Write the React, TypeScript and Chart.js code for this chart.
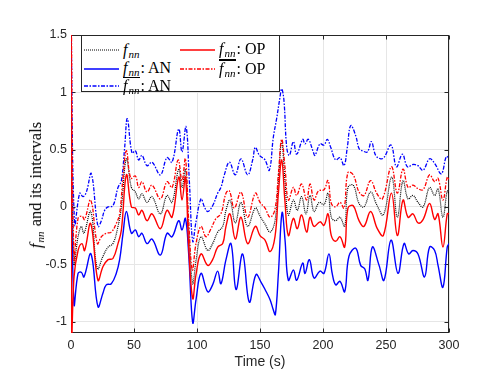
import React, { useEffect, useRef } from 'react';
import { Chart, registerables } from 'chart.js';

Chart.register(...registerables);

// ---- data (time in s, value) ----
const xTicks = [0, 50, 100, 150, 200, 250, 300];
const yTicks = [-1, -0.5, 0, 0.5, 1, 1.5];

const fnn: [number, number][] = [
  [0, 1.0], [2.4, -0.49], [5.6, -0.26], [8.2, -0.17], [10.3, -0.23], [15.6, -0.04], [20.9, -0.54], [25.4, -0.43],
  [29.4, -0.35], [33.3, -0.32], [37.3, -0.17], [40, 0.0], [44, 0.42], [47.9, 0.17], [51.1, 0.13], [53.7, 0.07],
  [56.3, 0.115], [60.3, 0.04], [64.3, 0.09], [70.9, -0.06], [76.2, 0.1], [80.2, 0.04], [85.5, 0.33], [88.1, 0.17],
  [90.8, 0.33], [93.4, -0.2], [96.6, -0.67], [99.2, -0.47], [103.2, -0.26], [108.5, -0.38], [112.4, -0.32],
  [116.4, -0.22], [120.4, -0.17], [123, -0.03], [126.2, 0.06], [130.4, -0.14], [134.9, 0.04], [140.2, -0.17],
  [146.3, -0.01], [150, -0.08], [154, -0.15], [158, -0.22], [161.9, -0.12], [164.6, 0.23], [167.2, 0.57],
  [169.8, 0.23], [172.5, -0.07], [176.5, 0.06], [179.6, -0.03], [183, 0.09], [186.5, -0.06], [189.7, 0.1],
  [192.9, -0.04], [197, 0.04], [200.8, 0.02], [204, 0.12], [206.6, -0.09], [210, -0.12], [213.5, -0.09],
  [217.2, -0.17], [219.8, 0.17], [224, 0.19], [228.6, 0.03], [232.5, 0.0], [237.8, 0.13], [242.6, 0.02],
  [247.9, -0.07], [254.5, 0.26], [259, -0.09], [263.5, 0.23], [267.5, 0.07], [271.4, 0.1], [275.4, 0.04],
  [279.4, 0.0], [284.6, 0.17], [288.6, 0.1], [291.3, 0.16], [295.2, -0.09], [298.6, 0.14], [300, 0.12],
];

const opUpper: [number, number][] = [
  [0, 2.0], [2.4, -0.45], [5.6, -0.1], [8.7, -0.08], [10.8, -0.11], [15.6, 0.06], [20.9, -0.32], [24.1, -0.26],
  [28, -0.23], [32, -0.22], [35.9, -0.145], [38.6, -0.06], [41.3, 0.26], [44, 0.49], [47.4, 0.25], [51.1, 0.27],
  [53.7, 0.17], [56.3, 0.22], [60.3, 0.13], [64.3, 0.19], [70.9, 0.07], [76.2, 0.22], [80.2, 0.17], [85, 0.41],
  [88.1, 0.23], [90.8, 0.42], [93.4, -0.12], [96.3, -0.55], [99.2, -0.32], [103.2, -0.17], [107.1, -0.26],
  [111.1, -0.19], [115.1, -0.1], [119, -0.06], [123, 0.12], [125.7, 0.14], [129.6, -0.01], [134.9, 0.13],
  [140.2, -0.09], [146.3, 0.12], [150, 0.04], [154, -0.01], [158, -0.09], [161.9, -0.02], [164.6, 0.29],
  [167.2, 0.59], [169.8, 0.35], [172.5, 0.06], [176.5, 0.17], [179.1, 0.1], [183, 0.2], [187, 0.06], [189.7, 0.2],
  [192.9, 0.06], [196.4, 0.14], [200.8, 0.15], [204, 0.23], [206.6, 0.03], [210, 0.0], [213.5, 0.04],
  [216.7, -0.01], [219.8, 0.3], [224, 0.28], [228.6, 0.13], [232.5, 0.1], [237.8, 0.23], [242.6, 0.12],
  [247.1, 0.07], [254.3, 0.35], [259, 0.12], [263.5, 0.33], [267.5, 0.17], [271.4, 0.19], [275.4, 0.16],
  [279.4, 0.15], [284.6, 0.28], [288.6, 0.22], [291.3, 0.25], [295.2, 0.06], [298.6, 0.26], [300, 0.24],
];

const opLower: [number, number][] = [
  [0, 1.6], [0.4, -1.2], [2.4, -0.61], [5.6, -0.38], [8.7, -0.32], [10.8, -0.38], [15.6, -0.145], [21.4, -0.64],
  [25.4, -0.52], [29.4, -0.46], [33.3, -0.45], [37.3, -0.32], [40, -0.2], [44, 0.28], [47.9, 0.0], [51.1, -0.01],
  [53.7, -0.07], [56.3, -0.03], [60.3, -0.12], [64.3, -0.06], [70.9, -0.19], [76.2, -0.03], [80.2, -0.09],
  [85.5, 0.26], [88.1, 0.06], [90.8, 0.26], [93.4, -0.35], [96.6, -0.8], [99.2, -0.59], [103.2, -0.41],
  [108.5, -0.51], [112.4, -0.46], [116.4, -0.35], [120.4, -0.32], [123, -0.17], [126.2, -0.06], [130.4, -0.28],
  [134.9, -0.09], [140.2, -0.32], [146.3, -0.17], [150, -0.25], [154, -0.29], [158, -0.39], [161.9, -0.26],
  [164.6, 0.12], [167.2, 0.41], [169.8, 0.05], [172.5, -0.25], [176.5, -0.1], [179.6, -0.19], [183, -0.07],
  [187, -0.22], [189.7, -0.09], [192.9, -0.17], [197.6, -0.13], [200.8, -0.16], [204, -0.06], [206.6, -0.25],
  [210, -0.3], [213.5, -0.26], [217.2, -0.35], [219.8, -0.01], [224, 0.01], [228.6, -0.12], [232.5, -0.17],
  [237.8, -0.04], [243.1, -0.19], [247.9, -0.25], [254.3, 0.12], [259, -0.25], [263.5, 0.06], [267.5, -0.09],
  [271.4, -0.06], [275.4, -0.14], [279.4, -0.11], [284.6, 0.03], [288.6, -0.11], [291.3, -0.06], [295.2, -0.35],
  [298.6, -0.06], [300, -0.06],
];

const anUpper: [number, number][] = [
  [0, 1.6], [2.9, -0.15], [6.9, 0.12], [9.5, 0.09], [12.2, 0.13], [16.1, 0.29], [21.4, -0.17], [24.1, -0.12],
  [26.7, -0.03], [29.4, 0.0], [33.3, 0.01], [37.3, 0.17], [40, 0.23], [42.6, 0.52], [44.7, 0.77], [48.4, 0.47],
  [51.1, 0.49], [53.7, 0.41], [56.3, 0.45], [60.3, 0.36], [64.3, 0.39], [70.9, 0.28], [76.2, 0.43], [80.2, 0.39],
  [85.5, 0.68], [88.1, 0.48], [91.3, 0.7], [93.9, 0.23], [96.6, -0.3], [99.2, -0.13], [103.2, 0.07],
  [105.9, 0.0], [108.5, -0.04], [112.4, 0.01], [116.4, 0.12], [119, 0.17], [121.7, 0.28], [125.7, 0.39],
  [130.4, 0.28], [134.9, 0.42], [140.2, 0.28], [144.2, 0.41], [146.3, 0.52], [149.5, 0.45], [154, 0.41],
  [157.4, 0.32], [160.6, 0.61], [163.2, 0.77], [165.9, 0.96], [167.2, 1.03], [169, 0.93], [171.2, 0.52],
  [173.3, 0.45], [176.5, 0.57], [179.1, 0.46], [183.9, 0.59], [185.7, 0.55], [188.3, 0.59], [192.3, 0.48],
  [193.6, 0.45], [197.6, 0.55], [200.8, 0.54], [203.4, 0.59], [206.1, 0.52], [210, 0.41], [213.5, 0.43],
  [216.7, 0.36], [219.3, 0.52], [222, 0.71], [226, 0.62], [228.6, 0.51], [231.2, 0.49], [235.2, 0.48],
  [238.4, 0.57], [241.8, 0.45], [245.8, 0.42], [248.4, 0.43], [254, 0.54], [258.3, 0.35], [263, 0.46],
  [267, 0.35], [271.4, 0.37], [275.4, 0.36], [279.4, 0.32], [284.6, 0.42], [288.6, 0.38], [293.9, 0.29],
  [297.9, 0.44], [300, 0.42],
];

const anLower: [number, number][] = [
  [0, 0.5], [2.4, -0.85], [5.6, -0.58], [8.2, -0.57], [10.3, -0.61], [15.8, -0.41], [21.4, -0.87], [25.4, -0.75],
  [28, -0.68], [32, -0.67], [35.9, -0.58], [38.6, -0.46], [41.3, -0.23], [44, -0.04], [47.9, -0.23], [51.1, -0.2],
  [53.7, -0.26], [56.3, -0.23], [60.3, -0.32], [64.3, -0.28], [70.9, -0.42], [76.2, -0.23], [80.2, -0.26],
  [85.5, -0.12], [88.1, -0.2], [90.8, -0.1], [93.4, -0.41], [96.6, -1.01], [99.2, -0.81], [103.2, -0.58],
  [108.5, -0.74], [112.4, -0.68], [116.4, -0.56], [119, -0.67], [123, -0.46], [127, -0.32], [131, -0.72],
  [136.2, -0.41], [141.5, -0.83], [146.8, -0.59], [151, -0.66], [154, -0.72], [158, -0.81], [160.6, -0.9],
  [162.2, -0.94], [164.6, -0.58], [167.5, -0.05], [169.8, -0.28], [172.5, -0.64], [176.5, -0.55], [179.1, -0.64],
  [183.9, -0.49], [185.7, -0.58], [189.2, -0.46], [192.9, -0.62], [197.6, -0.56], [200.8, -0.58], [204.7, -0.41],
  [207.3, -0.58], [210, -0.68], [213.5, -0.65], [217.2, -0.74], [220.6, -0.43], [226, -0.36], [229.9, -0.51],
  [233.1, -0.54], [235.7, -0.64], [239.2, -0.35], [244.5, -0.51], [248.4, -0.64], [254, -0.29], [259.5, -0.58],
  [264.3, -0.32], [268, -0.41], [271.4, -0.38], [275.4, -0.41], [280.6, -0.61], [284.6, -0.35], [288.6, -0.38],
  [291.3, -0.51], [295.2, -0.7], [298.6, -0.35], [300, -0.32],
];

const BLUE = '#0000ff';
const RED = '#ff0000';
const AXIS = '#262626';
const DOT = [1, 1];
const DASHDOT = [4, 1.5, 1.5, 1.5];
const SANS = '"Liberation Sans", Arial, Helvetica, sans-serif';
const SERIF = '"Liberation Serif", "Times New Roman", serif';

const framePlugin = {
  id: 'frame',
  beforeDatasetsDraw(chart: any) {
    const { ctx, chartArea: a, scales } = chart;
    ctx.save();
    ctx.strokeStyle = AXIS;
    ctx.lineWidth = 1;
    const L = Math.round(a.left) + 0.5, R = Math.round(a.right) - 0.5;
    const T = Math.round(a.top) + 0.5, B = Math.round(a.bottom) - 0.5;
    ctx.strokeRect(L, T, R - L, B - T);
    ctx.beginPath();
    const tl = 4;
    for (const v of xTicks) {
      const x = Math.round(scales.x.getPixelForValue(v)) + 0.5;
      ctx.moveTo(x, B); ctx.lineTo(x, B - tl);
      ctx.moveTo(x, T); ctx.lineTo(x, T + tl);
    }
    for (const v of yTicks) {
      const y = Math.round(scales.y.getPixelForValue(v)) + 0.5;
      ctx.moveTo(L, y); ctx.lineTo(L + tl, y);
      ctx.moveTo(R, y); ctx.lineTo(R - tl, y);
    }
    ctx.stroke();
    ctx.restore();
  },
};

const Fnn = ({ deco, sub }: { deco: 'none' | 'under' | 'over'; sub: number }) => (
  <span
    style={{
      display: 'inline-block',
      lineHeight: 1.05,
      borderBottom: deco === 'under' ? '1px solid #000' : 'none',
      borderTop: deco === 'over' ? '1px solid #000' : 'none',
      paddingBottom: deco === 'under' ? 1 : 0,
      paddingRight: 1,
    }}
  >
    <i>f</i>
    <i style={{ fontSize: sub, position: 'relative', top: '3px', marginLeft: 1 }}>nn</i>
  </span>
);

const LegendLine = ({ color, dash, width }: { color: string; dash: string; width: number }) => (
  <svg width={35} height={6} style={{ display: 'block', flex: 'none' }}>
    <line x1={0} y1={3} x2={35} y2={3} stroke={color} strokeWidth={width} strokeDasharray={dash || undefined} />
  </svg>
);

const legendItems = [
  { col: 0, row: 0, color: '#000', dash: '1 1', width: 1.2, deco: 'none', suffix: '' },
  { col: 0, row: 1, color: BLUE, dash: '', width: 1.4, deco: 'under', suffix: ': AN' },
  { col: 0, row: 2, color: BLUE, dash: '4 1.5 1.5 1.5', width: 1.3, deco: 'over', suffix: ': AN' },
  { col: 1, row: 0, color: RED, dash: '', width: 1.4, deco: 'under', suffix: ': OP' },
  { col: 1, row: 1, color: RED, dash: '4 1.5 1.5 1.5', width: 1.3, deco: 'over', suffix: ': OP' },
] as const;

export default function App() {
  const ref = useRef<HTMLCanvasElement>(null);

  useEffect(() => {
    if (!ref.current) return;
    const toPts = (a: [number, number][]) => a.map(([x, y]) => ({ x, y }));
    const common = { pointRadius: 0, tension: 0.4, fill: false };
    const chart = new Chart(ref.current, {
      type: 'line',
      data: {
        datasets: [
          { label: 'fnn upper OP', data: toPts(opUpper), borderColor: RED, borderWidth: 1.3, borderDash: DASHDOT, ...common },
          { label: 'fnn lower OP', data: toPts(opLower), borderColor: RED, borderWidth: 1.4, ...common },
          { label: 'fnn', data: toPts(fnn), borderColor: '#000', borderWidth: 1.2, borderDash: DOT, ...common },
          { label: 'fnn upper AN', data: toPts(anUpper), borderColor: BLUE, borderWidth: 1.3, borderDash: DASHDOT, ...common },
          { label: 'fnn lower AN', data: toPts(anLower), borderColor: BLUE, borderWidth: 1.4, ...common },
        ],
      },
      options: {
        animation: false,
        responsive: false,
        devicePixelRatio: 1,
        layout: { padding: { left: 0, right: 31, top: 27, bottom: 0 } },
        plugins: { legend: { display: false }, tooltip: { enabled: false } },
        scales: {
          x: {
            type: 'linear',
            min: 0,
            max: 300,
            afterBuildTicks: (s: any) => { s.ticks = xTicks.map((v) => ({ value: v })); },
            afterFit: (s: any) => { s.height = 45; },
            grid: { color: '#e6e6e6', lineWidth: 1, drawTicks: false },
            border: { display: false },
            ticks: { padding: 5, color: AXIS, maxRotation: 0, autoSkip: false, font: { family: SANS, size: 12.5 }, callback: (v: any) => String(v) },
            title: { display: true, text: 'Time (s)', color: AXIS, font: { family: SANS, size: 14 }, padding: { top: 0, bottom: 7 } },
          },
          y: {
            type: 'linear',
            min: -1.1,
            max: 1.5,
            afterBuildTicks: (s: any) => { s.ticks = yTicks.map((v) => ({ value: v })); },
            afterFit: (s: any) => { s.width = 63; },
            grid: { color: '#e6e6e6', lineWidth: 1, drawTicks: false },
            border: { display: false },
            ticks: { padding: 4, color: AXIS, autoSkip: false, font: { family: SANS, size: 12.5 }, callback: (v: any) => String(v) },
          },
        },
      },
      plugins: [framePlugin],
    });
    return () => chart.destroy();
  }, []);

  const colX = [2, 98];
  const rowY = [14, 32.5, 50];

  return (
    <div style={{ position: 'relative', width: 472, height: 370 }}>
      <canvas ref={ref} width={472} height={370} style={{ position: 'absolute', left: 0, top: 0 }} />
      <div
        style={{
          position: 'absolute',
          left: 28,
          top: 177,
          transform: 'translate(-50%, -50%) rotate(-90deg)',
          whiteSpace: 'nowrap',
          fontFamily: SERIF,
          fontSize: 16.5,
          color: '#000',
        }}
      >
        <Fnn deco="none" sub={11} /> and its intervals
      </div>
      <div
        style={{
          position: 'absolute',
          left: 73,
          top: 27,
          width: 199,
          height: 57,
          boxSizing: 'border-box',
          border: `1px solid ${AXIS}`,
          background: '#fff',
          fontFamily: SERIF,
          fontSize: 16,
          color: '#000',
        }}
      >
        {legendItems.map((it, i) => (
          <div
            key={i}
            style={{
              position: 'absolute',
              left: colX[it.col],
              top: rowY[it.row] - 10,
              height: 20,
              display: 'flex',
              alignItems: 'center',
              whiteSpace: 'nowrap',
            }}
          >
            <LegendLine color={it.color} dash={it.dash} width={it.width} />
            <span style={{ marginLeft: 4 }}>
              <Fnn deco={it.deco as any} sub={11} />
              {it.suffix}
            </span>
          </div>
        ))}
      </div>
    </div>
  );
}
